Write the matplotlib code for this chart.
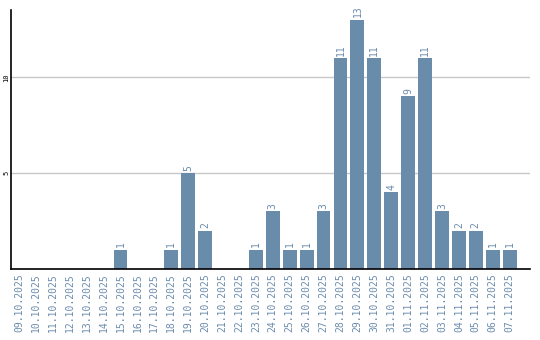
import matplotlib
matplotlib.use("Agg")
import matplotlib.pyplot as plt

dates = ["09.10.2025", "10.10.2025", "11.10.2025", "12.10.2025", "13.10.2025",
         "14.10.2025", "15.10.2025", "16.10.2025", "17.10.2025", "18.10.2025",
         "19.10.2025", "20.10.2025", "21.10.2025", "22.10.2025", "23.10.2025",
         "24.10.2025", "25.10.2025", "26.10.2025", "27.10.2025", "28.10.2025",
         "29.10.2025", "30.10.2025", "31.10.2025", "01.11.2025", "02.11.2025",
         "03.11.2025", "04.11.2025", "05.11.2025", "06.11.2025", "07.11.2025"]
counts = [0, 0, 0, 0, 0, 0, 1, 0, 0, 1, 5, 2, 0, 0, 1, 3, 1, 1, 3, 11,
          13, 11, 4, 9, 11, 3, 2, 2, 1, 1]

bar_color = "#6a8cab"
text_color = "#6b8cad"

fig = plt.figure(figsize=(5.4, 3.4), dpi=100)
ax = fig.add_axes([0.0204, 0.209, 0.961, 0.761])

x = list(range(len(dates)))
ax.bar(x, counts, width=0.82, color=bar_color, zorder=2)

# value labels above non-empty bars
for xi, v in zip(x, counts):
    if v > 0:
        ax.text(xi, v + 0.12, str(v), rotation=90, ha="center", va="bottom",
                fontsize=7, color=text_color, family="DejaVu Sans Mono")

ax.set_xlim(-0.47, 30.2)
ax.set_ylim(0, 13.5)
ax.set_yticks([5, 10])
ax.set_yticklabels(["5", "10"], rotation=90, va="center", fontsize=5,
                   family="DejaVu Sans Mono")
ax.set_xticks(x)
ax.set_xticklabels(dates, rotation=90, fontsize=7, color=text_color,
                   family="DejaVu Sans Mono")
ax.tick_params(axis="x", length=0, pad=3)
ax.tick_params(axis="y", length=0, pad=1)

ax.grid(axis="y", color="#c8c8c8", linewidth=1, zorder=0)
for s in ["top", "right"]:
    ax.spines[s].set_visible(False)
ax.spines["left"].set_linewidth(1.2)
ax.spines["bottom"].set_linewidth(1.2)

fig.savefig("out.png", dpi=100)
